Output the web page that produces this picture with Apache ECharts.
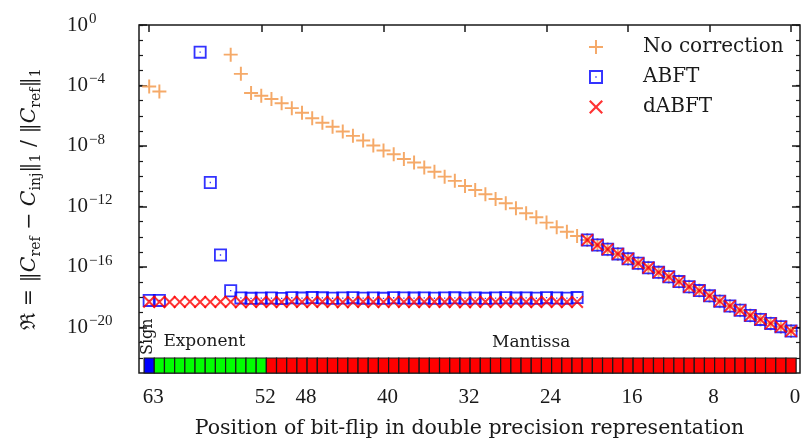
<!DOCTYPE html>
<html>
<head>
<meta charset="utf-8">
<script src="https://cdn.jsdelivr.net/npm/echarts@6/dist/echarts.min.js"></script>
<style>
  html, body { margin: 0; padding: 0; background: #fff; }
  #chart { width: 802px; height: 441px; }
</style>
</head>
<body>
<div id="chart"></div>
<script>
// bit positions, most significant first
const bits = [
  63, 62, 61, 60, 59, 58, 57, 56, 55, 54, 53, 52, 51, 50, 49, 48,
  47, 46, 45, 44, 43, 42, 41, 40, 39, 38, 37, 36, 35, 34, 33, 32,
  31, 30, 29, 28, 27, 26, 25, 24, 23, 22, 21, 20, 19, 18, 17, 16,
  15, 14, 13, 12, 11, 10, 9, 8, 7, 6, 5, 4, 3, 2, 1, 0
]
const xTicks = [63, 52, 48, 40, 32, 24, 16, 8, 0]

const noCorrection = [
  8.5e-5, 4.0e-5, null, null, null, null, null, null, 1.1e-2, 5.9e-4, 3.2e-5, 2.1e-5, 1.3e-5, 6.8e-6, 3.2e-6, 1.6e-6,
  6.9e-7, 3.5e-7, 1.9e-7, 9.1e-8, 4.7e-8, 2.3e-8, 1.07e-8, 5.0e-9, 2.9e-9, 1.4e-9, 8.1e-10, 3.8e-10, 2.0e-10, 9.5e-11, 5.0e-11, 2.3e-11,
  1.26e-11, 6.6e-12, 3.2e-12, 1.66e-12, 7.8e-13, 3.6e-13, 1.95e-13, 8.7e-14, 4.3e-14, 2.2e-14, 1.15e-14, 6.2e-15, 2.9e-15, 1.5e-15, 7.4e-16, 3.5e-16,
  1.8e-16, 9.1e-17, 4.5e-17, 2.3e-17, 1.1e-17, 5.0e-18, 2.8e-18, 1.26e-18, 5.6e-19, 2.7e-19, 1.4e-19, 6.3e-20, 3.5e-20, 1.9e-20, 1.15e-20, 5.9e-21
]
const abft = [
  6.3e-19, 6.3e-19, null, null, null, 1.6e-2, 3.9e-11, 6.3e-16, 2.75e-18, 9.2e-19, 8.6e-19, 8.8e-19, 9.0e-19, 8.5e-19, 9.4e-19, 8.9e-19,
  9.6e-19, 9.3e-19, 8.7e-19, 9.0e-19, 9.5e-19, 8.8e-19, 9.1e-19, 8.6e-19, 9.4e-19, 9.0e-19, 8.9e-19, 9.2e-19, 8.7e-19, 9.0e-19, 9.3e-19, 8.8e-19,
  9.1e-19, 8.6e-19, 9.0e-19, 9.4e-19, 8.9e-19, 9.2e-19, 8.7e-19, 9.5e-19, 9.0e-19, 8.8e-19, 9.6e-19, 6.2e-15, 2.9e-15, 1.5e-15, 7.4e-16, 3.5e-16,
  1.8e-16, 9.1e-17, 4.5e-17, 2.3e-17, 1.1e-17, 5.0e-18, 2.8e-18, 1.26e-18, 5.6e-19, 2.7e-19, 1.4e-19, 6.3e-20, 3.5e-20, 1.9e-20, 1.15e-20, 5.9e-21
]
const dabft = [
  5.1e-19, 5.0e-19, 4.9e-19, 5.0e-19, 5.2e-19, 4.9e-19, 5.0e-19, 5.1e-19, 5.0e-19, 4.8e-19, 5.0e-19, 5.1e-19, 4.9e-19, 5.0e-19, 5.2e-19, 5.0e-19,
  4.9e-19, 5.1e-19, 5.0e-19, 4.8e-19, 5.0e-19, 5.1e-19, 4.9e-19, 5.0e-19, 5.2e-19, 5.0e-19, 4.9e-19, 5.0e-19, 5.1e-19, 4.9e-19, 5.0e-19, 4.8e-19,
  5.0e-19, 5.1e-19, 5.0e-19, 4.9e-19, 5.2e-19, 5.0e-19, 4.9e-19, 5.1e-19, 5.0e-19, 4.9e-19, 5.0e-19, 6.2e-15, 2.9e-15, 1.5e-15, 7.4e-16, 3.5e-16,
  1.8e-16, 9.1e-17, 4.5e-17, 2.3e-17, 1.1e-17, 5.0e-18, 2.8e-18, 1.26e-18, 5.6e-19, 2.7e-19, 1.4e-19, 6.3e-20, 3.5e-20, 1.9e-20, 1.15e-20, 5.9e-21
]

// double precision layout, from bit 63 down
const fieldNames = ['Sign', 'Exponent', 'Mantissa']
const fieldBits = [1, 11, 52]
const fieldColors = ['#0000ff', '#00ff00', '#ff0000']

const TEXT = '#1a1a1a'
const SERIF = 'DejaVu Serif'
const NUM = 'Liberation Serif'

const PLUS = 'path://M43,0L57,0L57,43L100,43L100,57L57,57L57,100L43,100L43,57L0,57L0,43L43,43Z'
const BOX = 'path://M0,0L100,0L100,100L0,100Z M14,14L14,86L86,86L86,14Z M45,45L55,45L55,55L45,55Z'
const CROSS = 'path://M0,11L11,0L50,39L89,0L100,11L61,50L100,89L89,100L50,61L11,100L0,89L39,50Z'

const pts = (vals) => bits.map((b, i) => (vals[i] == null ? null : [b, vals[i]])).filter(Boolean)

// which field each bit belongs to
let fieldOfBit = []
fieldBits.forEach((n, f) => {
  for (let k = 0; k < n; k++) fieldOfBit.push(f)
})
const stripData = bits.map((b, i) => [b, fieldOfBit[i]])

const X_MIN = -0.88
const X_MAX = 64
const G = { left: 139, right: 2, outerBoundsMode: 'none', containLabel: false }
const noLine = { show: false, onZero: false }

const chart = echarts.init(document.getElementById('chart'))

const supFmt = (v) => {
  const e = Math.round(Math.log10(v))
  return '{b|10}{e|' + (e < 0 ? '\u2212' + (-e) : e) + '}'
}

const option = {
  animation: false,
  backgroundColor: '#fff',
  grid: [
    { ...G, top: 25, height: 348, show: true, borderColor: TEXT, borderWidth: 1.5, backgroundColor: 'transparent' },
    { ...G, top: 25, height: 302.4 },
    { ...G, top: 358, height: 15 }
  ],
  legend: {
    orient: 'vertical',
    left: 584,
    top: 32,
    itemWidth: 14,
    itemHeight: 14,
    itemGap: 10,
    data: ['No correction', 'ABFT', 'dABFT'],
    textStyle: { fontFamily: SERIF, fontSize: 20, lineHeight: 14, color: TEXT, padding: [0, 0, 0, 35] }
  },
  xAxis: [
    {
      gridIndex: 0, type: 'value', inverse: true, min: X_MIN, max: X_MAX, position: 'bottom',
      axisLine: noLine, axisTick: { show: false }, splitLine: { show: false },
      axisLabel: {
        customValues: xTicks, margin: 14, padding: [0, 0, 0, 8],
        fontFamily: NUM, fontSize: 21, color: TEXT
      },
      name: 'Position of bit-flip in double precision representation',
      nameLocation: 'middle', nameGap: 45,
      nameTextStyle: { fontFamily: SERIF, fontSize: 20.5, color: TEXT }
    },
    {
      gridIndex: 0, type: 'value', inverse: true, min: X_MIN, max: X_MAX, position: 'top',
      axisLine: noLine, splitLine: { show: false }, axisLabel: { show: false },
      axisTick: { show: true, inside: true, length: 7, customValues: xTicks, lineStyle: { color: TEXT, width: 1.5 } }
    },
    { gridIndex: 1, type: 'value', inverse: true, min: X_MIN, max: X_MAX, show: false, axisLine: noLine },
    { gridIndex: 2, type: 'value', inverse: true, min: X_MIN, max: X_MAX, show: false, axisLine: noLine }
  ],
  yAxis: [
    {
      gridIndex: 0, type: 'log', min: 1e-23, max: 1, interval: 1, position: 'left',
      axisLine: noLine, splitLine: { show: false }, axisLabel: { show: false },
      axisTick: { inside: true, length: 4, lineStyle: { color: TEXT, width: 1.2 } },
      name: '{n|\u211C = \u2016}{i|C}{s|ref}{n| \u2212 }{i|C}{s|inj}{n|\u2016}{s|1}{n| / \u2016}{i|C}{s|ref}{n|\u2016}{s|1}',
      nameLocation: 'middle', nameGap: 96, nameRotate: 90,
      nameTextStyle: {
        rich: {
          n: { fontFamily: SERIF, fontSize: 20.5, color: TEXT },
          i: { fontFamily: SERIF, fontSize: 20.5, fontStyle: 'italic', color: TEXT },
          s: { fontFamily: SERIF, fontSize: 14, color: TEXT, padding: [12, 0, 0, 0] }
        }
      }
    },
    {
      gridIndex: 0, type: 'log', min: 1e-23, max: 1, interval: 1, position: 'right',
      axisLine: noLine, splitLine: { show: false }, axisLabel: { show: false },
      axisTick: { inside: true, length: 4, lineStyle: { color: TEXT, width: 1.2 } }
    },
    {
      gridIndex: 1, type: 'log', min: 1e-20, max: 1, interval: 4, position: 'left',
      axisLine: noLine, splitLine: { show: false },
      axisTick: { inside: true, length: 8, lineStyle: { color: TEXT, width: 1.5 } },
      axisLabel: {
        align: 'left', margin: 72, formatter: supFmt,
        rich: {
          b: { fontFamily: NUM, fontSize: 21, color: TEXT },
          e: { fontFamily: NUM, fontSize: 15, color: TEXT, padding: [0, 0, 12, 1] }
        }
      }
    },
    {
      gridIndex: 1, type: 'log', min: 1e-20, max: 1, interval: 4, position: 'right',
      axisLine: noLine, splitLine: { show: false }, axisLabel: { show: false },
      axisTick: { inside: true, length: 8, lineStyle: { color: TEXT, width: 1.5 } }
    },
    { gridIndex: 2, type: 'value', min: 0, max: 1, show: false, axisLine: noLine }
  ],
  series: [
    {
      name: 'No correction', type: 'scatter', xAxisIndex: 0, yAxisIndex: 0,
      symbol: PLUS, symbolSize: 14,
      itemStyle: { color: '#f4a460', opacity: 0.95 },
      data: pts(noCorrection)
    },
    {
      name: 'ABFT', type: 'scatter', xAxisIndex: 0, yAxisIndex: 0,
      symbol: BOX, symbolSize: 13,
      itemStyle: { color: '#0000ff' },
      data: pts(abft)
    },
    {
      name: 'dABFT', type: 'scatter', xAxisIndex: 0, yAxisIndex: 0,
      symbol: CROSS, symbolSize: 13,
      itemStyle: { color: '#ff0000' },
      data: pts(dabft)
    },
    {
      type: 'custom', xAxisIndex: 3, yAxisIndex: 4,
      encode: { x: 0 },
      data: stripData,
      renderItem: (params, api) => {
        const b = api.value(0)
        const p0 = api.coord([b + 0.5, 1])
        const p1 = api.coord([b - 0.5, 0])
        return {
          type: 'rect',
          shape: { x: p0[0], y: p0[1], width: p1[0] - p0[0], height: p1[1] - p0[1] },
          style: { fill: fieldColors[api.value(1)], stroke: TEXT, lineWidth: 1.2 }
        }
      }
    }
  ]
}

chart.setOption(option)

// field names above the bit strip
let start = 0
const graphic = []
fieldBits.forEach((n, f) => {
  const hi = bits[start]
  const lo = bits[start + n - 1]
  const top = chart.convertToPixel({ xAxisIndex: 3, yAxisIndex: 4 }, [hi, 1])
  const mid = chart.convertToPixel({ xAxisIndex: 3, yAxisIndex: 4 }, [(hi + lo) / 2, 1])
  let el
  if (f === 0) {
    el = { type: 'text', x: top[0] - 1, y: top[1] - 3, rotation: Math.PI / 2,
      style: { text: fieldNames[f], font: '16px "' + SERIF + '"', fill: TEXT, align: 'left', verticalAlign: 'middle' } }
  } else if (f === 1) {
    el = { type: 'text', x: top[0] + 4, y: top[1] - 16,
      style: { text: fieldNames[f], font: '17px "' + SERIF + '"', fill: TEXT, align: 'left', verticalAlign: 'middle' } }
  } else {
    el = { type: 'text', x: mid[0], y: mid[1] - 15,
      style: { text: fieldNames[f], font: '17px "' + SERIF + '"', fill: TEXT, align: 'center', verticalAlign: 'middle' } }
  }
  graphic.push(el)
  start += n
})
chart.setOption({ graphic })
</script>
</body>
</html>
